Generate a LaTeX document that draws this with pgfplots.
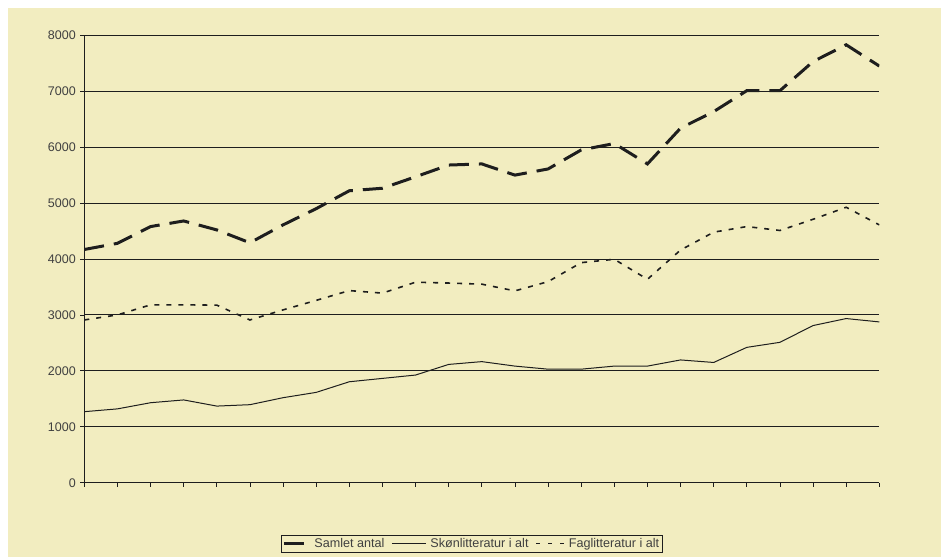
\documentclass[border=0pt]{standalone}
\usepackage{fontspec}
\setmainfont{Liberation Sans}
\usepackage{pgfplots}
\pgfplotsset{compat=1.18}
\definecolor{bg}{RGB}{242,237,192}
\definecolor{ink}{RGB}{30,30,30}
\begin{document}
\begin{tikzpicture}[x=1pt,y=1pt]
\fill[white] (0,0) rectangle (941,557);
\fill[bg] (8,0) rectangle (941,549);
\begin{axis}[
  at={(84.3pt,74.3pt)}, anchor=south west,
  scale only axis, width=795pt, height=447.4pt,
  xmin=0, xmax=24, ymin=0, ymax=8000,
  xtick={0,...,24}, xticklabels={},
  ytick={0,1000,...,8000},
  tick style={ink, line width=0.8pt},
  major tick length=4pt,
  xtick pos=bottom, ytick pos=left,
  tick align=outside,
  ymajorgrids, grid style={ink, line width=0.9pt},
  axis x line*=bottom, axis y line*=left,
  axis line style={ink, line width=0.9pt},
  /pgf/number format/assume math mode=true,
  /pgf/number format/set thousands separator={},
  yticklabel style={font=\fontsize{12.5}{14}\selectfont, text=ink!85, xshift=-1pt},
  legend style={at={(0.5,-0.116)}, anchor=north, xshift=-10pt, legend columns=3,
    draw=ink, line width=0.8pt, fill=bg, font=\fontsize{12.6}{14}\selectfont,
    inner sep=1.3pt, text=ink!85,
    /tikz/every odd column/.append style={column sep=2pt},
    /tikz/every even column/.append style={column sep=5pt}},
  legend image code/.code={\draw[#1] (0pt,0pt) -- (30pt,0pt);},
  legend cell align=left,
]
\addplot[ink, line width=3pt, dash pattern=on 20pt off 10pt,
  legend image code/.code={\draw[ink, line width=3pt] (0pt,0pt) -- (25pt,0pt);}] coordinates {
(0,4170) (1,4280) (2,4580) (3,4680) (4,4520) (5,4290) (6,4610) (7,4900)
(8,5220) (9,5265) (10,5470) (11,5680) (12,5700) (13,5500) (14,5610) (15,5950)
(16,6065) (17,5700) (18,6340) (19,6635) (20,7010) (21,7010) (22,7530) (23,7830) (24,7450)};
\addlegendentry{Samlet antal}
\addplot[ink, line width=1pt,
  legend image code/.code={\draw[ink, line width=1pt] (0pt,0pt) -- (34pt,0pt);}] coordinates {
(0,1270) (1,1320) (2,1430) (3,1480) (4,1370) (5,1395) (6,1520) (7,1615)
(8,1805) (9,1865) (10,1925) (11,2115) (12,2165) (13,2085) (14,2030) (15,2030)
(16,2085) (17,2085) (18,2195) (19,2150) (20,2420) (21,2510) (22,2810) (23,2935) (24,2875)};
\addlegendentry{Skønlitteratur i alt}
\addplot[ink, line width=1.6pt, dash pattern=on 5pt off 7pt,
  legend image code/.code={\draw[ink, line width=1.3pt, dash pattern=on 4pt off 8pt] (0pt,0pt) -- (28pt,0pt);}] coordinates {
(0,2910) (1,3000) (2,3180) (3,3180) (4,3175) (5,2910) (6,3090) (7,3260)
(8,3435) (9,3390) (10,3585) (11,3570) (12,3550) (13,3430) (14,3595) (15,3935)
(16,3995) (17,3637) (18,4160) (19,4480) (20,4580) (21,4510) (22,4710) (23,4925) (24,4610)};
\addlegendentry{Faglitteratur i alt}
\end{axis}
\end{tikzpicture}
\end{document}
